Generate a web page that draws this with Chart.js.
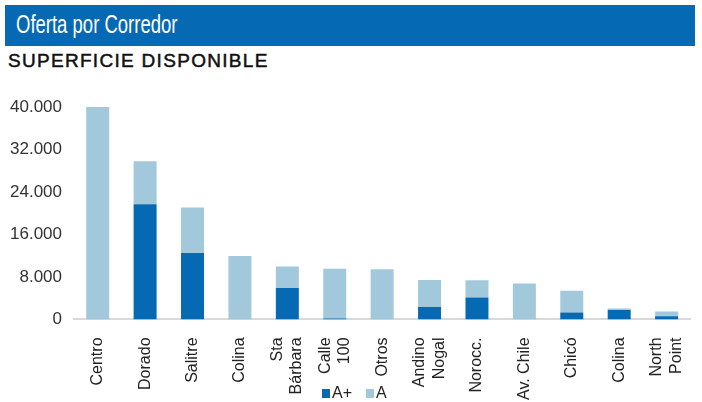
<!DOCTYPE html>
<html>
<head>
<meta charset="utf-8">
<script src="https://cdn.jsdelivr.net/npm/chart.js@4.4.1/dist/chart.umd.min.js"></script>
<style>
  body { margin: 0; width: 702px; height: 402px; background: #fff; position: relative; overflow: hidden; font-family: "Liberation Sans", Arial, sans-serif; }
  .banda { position: absolute; left: 5px; top: 5px; width: 690px; height: 41px; background: #0569b3; }
  .banda span { position: absolute; left: 11px; top: 5px; color: #fff; font-size: 25px; transform: scaleX(0.74); transform-origin: 0 0; white-space: nowrap; }
  .sub { position: absolute; left: 8px; top: 50px; font-size: 19px; letter-spacing: 1.3px; color: #111; -webkit-text-stroke: 0.5px #111; white-space: nowrap; }
  #wrap { position: absolute; left: 6px; top: 85px; width: 709px; height: 325px; }
  #leyenda { position: absolute; left: 322px; top: 384px; font-size: 16px; color: #222; white-space: nowrap; }
  #leyenda span { display: inline-block; margin-right: 14px; }
  #leyenda i { display: inline-block; width: 8px; height: 9px; margin-right: 2px; vertical-align: 0px; }
</style>
</head>
<body>
<div class="banda"><span>Oferta por Corredor</span></div>
<div class="sub">SUPERFICIE DISPONIBLE</div>
<div id="wrap"><canvas id="grafico"></canvas></div>
<div id="leyenda"></div>
<script>
// corredores y superficie disponible (m2) por clase
const corredores = ['Centro', 'Dorado', 'Salitre', 'Colina', ['Sta', 'Bárbara'], ['Calle', '100'], 'Otros',
    ['Andino', 'Nogal'], 'Norocc.', 'Av. Chile', 'Chicó', 'Colina', ['North', 'Point']];
const claseAmas = [0, 21700, 12500, 0, 5900, 200, 0, 2330, 4150, 0, 1320, 1760, 620];
const claseA = [40000, 8100, 8600, 11950, 4050, 9350, 9430, 5090, 3210, 6790, 4090, 310, 890];
const ticksY = [0, 8000, 16000, 24000, 32000, 40000];

const formato = v => v.toLocaleString('es-CL');

// centra las etiquetas de dos líneas sobre su barra
const centrarLineas = {
    id: 'centrarLineas',
    beforeDraw(chart) {
        const escala = chart.scales.x;
        const items = escala.getLabelItems(chart.chartArea);
        items.forEach(it => {
            if (it._centrado || !Array.isArray(it.label)) return;
            const t = it.options ? it.options.translation : it.translation;
            t[0] -= (it.label.length - 1) * it.font.lineHeight / 2;
            it._centrado = true;
        });
    }
};

const ctx = document.getElementById('grafico').getContext('2d');
const grafico = new Chart(ctx, {
    type: 'bar',
    data: {
        labels: corredores,
        datasets: [
            { label: 'A+', data: claseAmas, backgroundColor: '#0569b3', barPercentage: 0.97, categoryPercentage: 0.5 },
            { label: 'A', data: claseA, backgroundColor: '#a2c8dc', barPercentage: 0.97, categoryPercentage: 0.5 }
        ]
    },
    plugins: [centrarLineas],
    options: {
        responsive: true,
        maintainAspectRatio: false,
        animation: false,
        layout: { padding: { top: 22, right: 0, left: 0, bottom: 0 } },
        plugins: {
            tooltip: { enabled: false },
            legend: { display: false }
        },
        scales: {
            x: {
                stacked: true,
                grid: { display: false },
                border: { color: '#d9d9d9', width: 2 },
                ticks: { minRotation: 90, maxRotation: 90, padding: 10, color: '#222', font: { size: 16 } }
            },
            y: {
                stacked: true,
                min: 0,
                max: 40000,
                afterBuildTicks: axis => { axis.ticks = ticksY.map(v => ({ value: v })); },
                grid: { display: false },
                border: { display: false },
                ticks: { padding: 4, color: '#333', font: { size: 17 }, callback: v => formato(v) }
            }
        }
    }
});

// leyenda armada con los colores de cada serie
document.getElementById('leyenda').innerHTML = grafico.data.datasets
    .map(d => `<span><i style="background:${d.backgroundColor}"></i>${d.label}</span>`).join('');
</script>
</body>
</html>
